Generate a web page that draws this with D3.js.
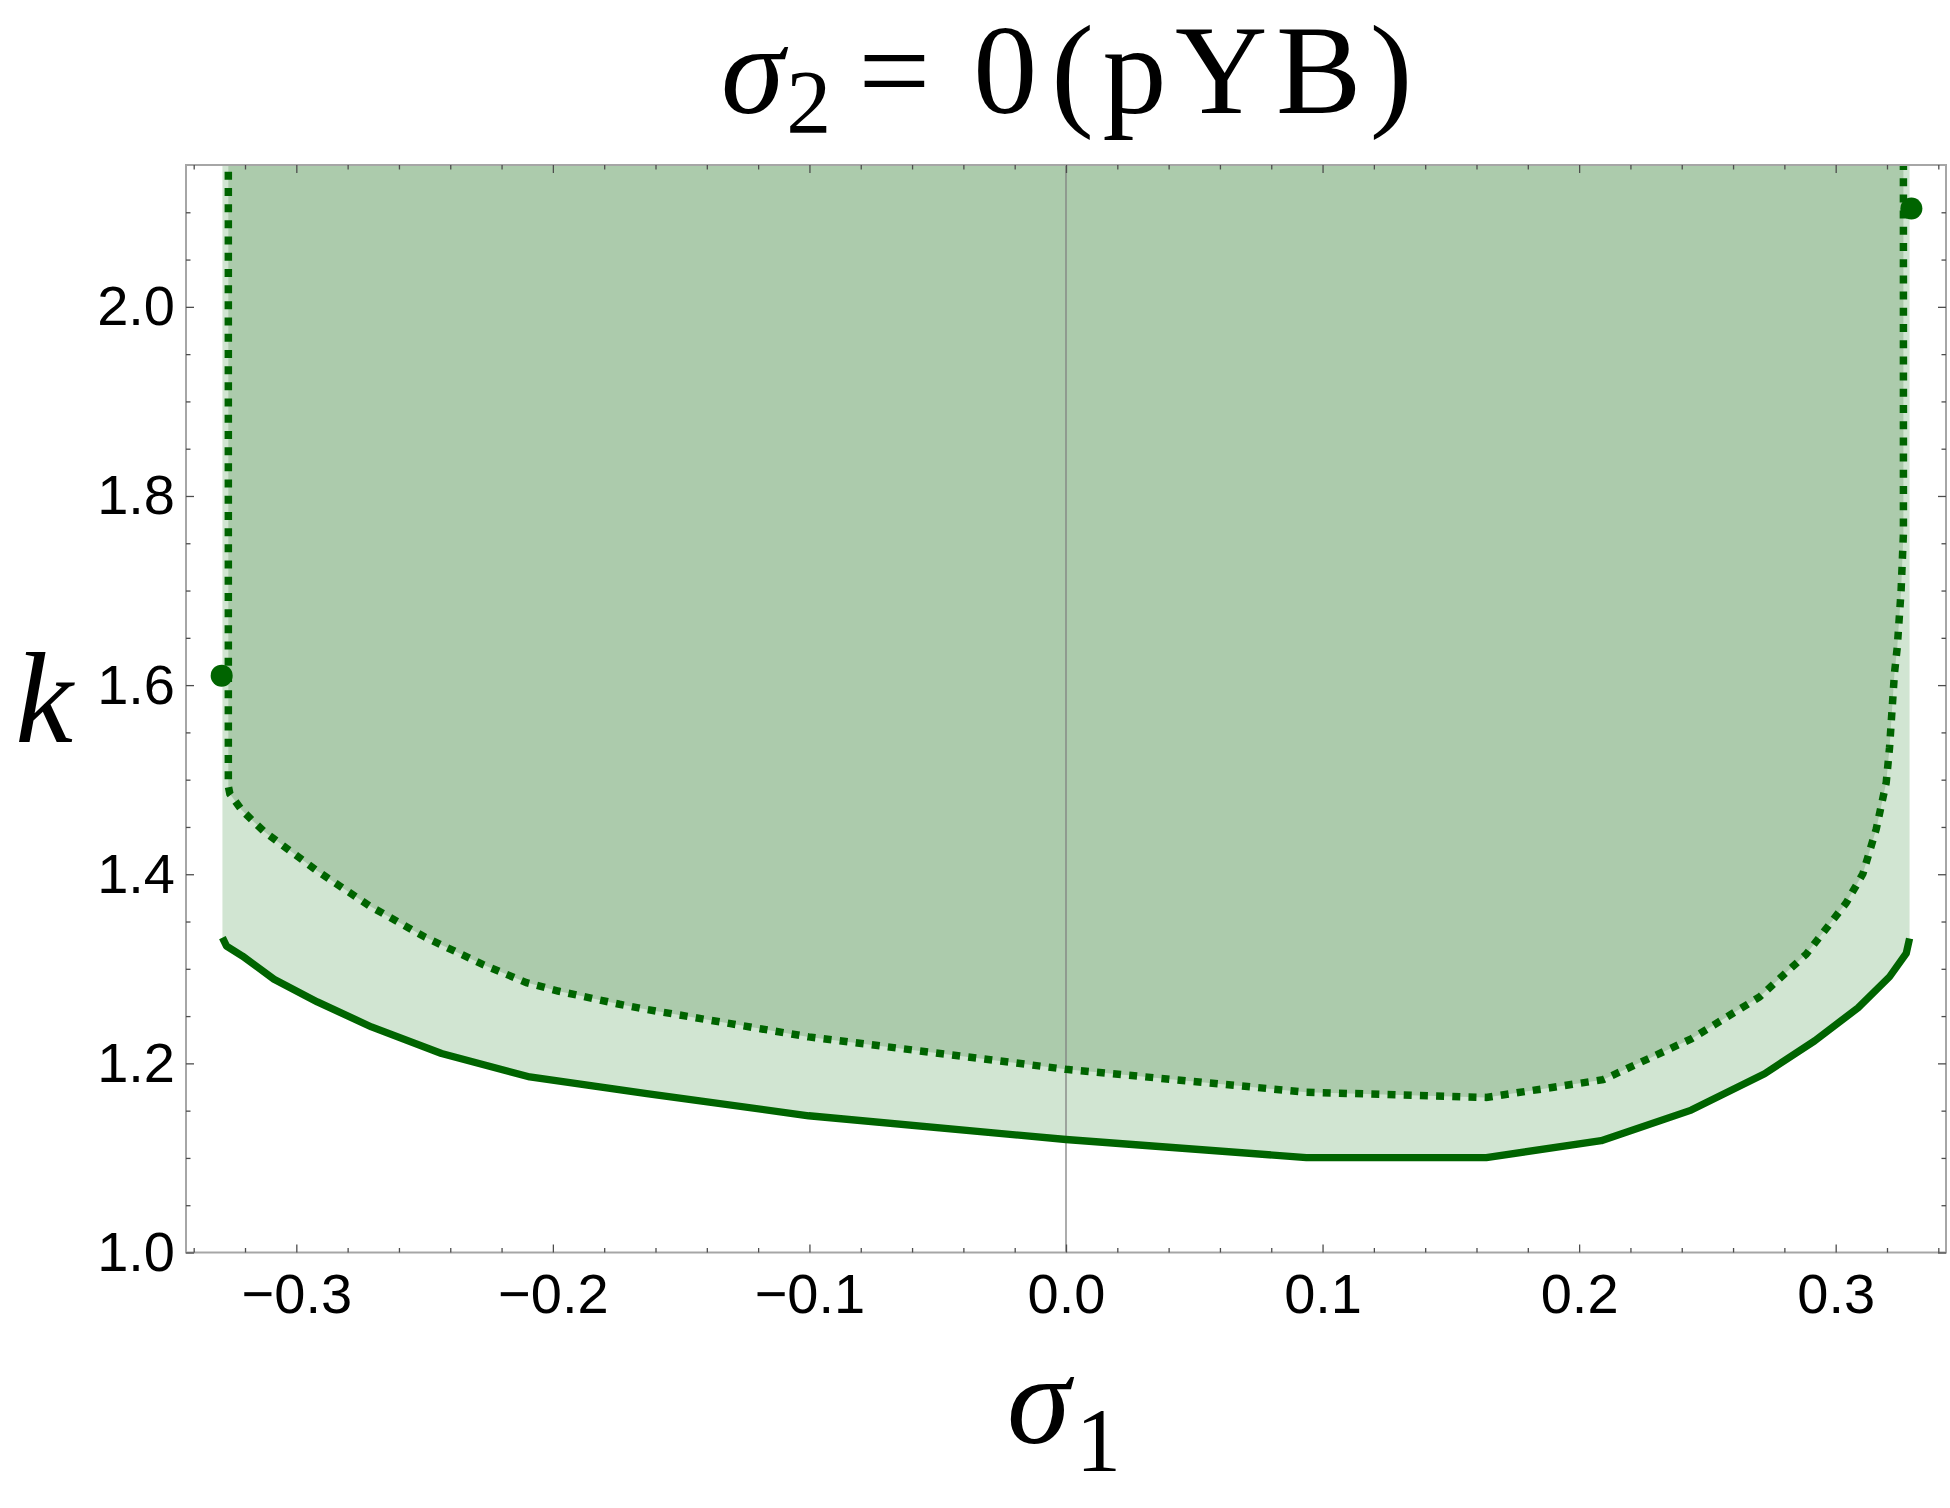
<!DOCTYPE html>
<html>
<head>
<meta charset="utf-8">
<script src="https://cdn.jsdelivr.net/npm/d3@7"></script>
<style>
  html, body { margin: 0; padding: 0; background: #fff; }
  svg { display: block; }
</style>
</head>
<body>
<svg id="chart" width="1950" height="1508"></svg>
<script>
// values
const sigmaSolid = [-0.3288, -0.3272, -0.321, -0.3087, -0.2918, -0.2707, -0.2434, -0.209, -0.1634, -0.1003,
  0.0, 0.0937, 0.1638, 0.2086, 0.2437, 0.2723, 0.2918, 0.3087, 0.321, 0.3275, 0.3288];
const kSolid = [1.333, 1.324, 1.3135, 1.289, 1.265, 1.2385, 1.2104, 1.1856, 1.168, 1.1446,
  1.1195, 1.1004, 1.1004, 1.1182, 1.1506, 1.189, 1.2238, 1.2587, 1.2916, 1.3163, 1.332];

const sigmaDotted = [-0.3265, -0.3265, -0.3259, -0.3214, -0.3168, -0.3123, -0.2921, -0.2714, -0.2499, -0.2272,
  -0.2103, -0.198, -0.174, -0.1634, -0.1003, 0.0, 0.0937, 0.1638, 0.2093, 0.2437,
  0.2703, 0.2885, 0.3041, 0.3106, 0.3158, 0.3197, 0.321, 0.322, 0.3229, 0.324,
  0.3255, 0.3264, 0.3264];
const kDotted = [2.16, 1.493, 1.485, 1.4683, 1.456, 1.4446, 1.404, 1.3664, 1.3336, 1.3044,
  1.2854, 1.2765, 1.2625, 1.257, 1.228, 1.1937, 1.1695, 1.164, 1.1827, 1.2259,
  1.2702, 1.3154, 1.3697, 1.4004, 1.4477, 1.497, 1.534, 1.575, 1.612, 1.64,
  1.7, 1.76, 2.16];

const pointSigma = [-0.3291, 0.3295];
const pointK = [1.61, 2.104];

const xTicks = [-0.3, -0.2, -0.1, 0, 0.1, 0.2, 0.3];
const xTickLabels = ["\u22120.3", "\u22120.2", "\u22120.1", "0.0", "0.1", "0.2", "0.3"];
const yTicks = [1.0, 1.2, 1.4, 1.6, 1.8, 2.0];
const yTickLabels = ["1.0", "1.2", "1.4", "1.6", "1.8", "2.0"];

const sigmaDomain = [-0.343, 0.343];
const kDomain = [1.0, 2.15];

const green = "#006400";
const lightFill = "#d1e5d2";
const darkFill = "#accbac";

const svg = d3.select("#chart");

const x = d3.scaleLinear().domain(sigmaDomain).range([186, 1946]);
const y = d3.scaleLinear().domain(kDomain).range([1252.5, 165]);

// clip to the frame
svg.append("defs").append("clipPath").attr("id", "plot-clip")
  .append("rect")
  .attr("x", x(sigmaDomain[0])).attr("y", y(kDomain[1]))
  .attr("width", x(sigmaDomain[1]) - x(sigmaDomain[0]))
  .attr("height", y(kDomain[0]) - y(kDomain[1]));

const plot = svg.append("g").attr("clip-path", "url(#plot-clip)");

const solidPts = sigmaSolid.map((s, i) => [s, kSolid[i]]);
const dottedPts = sigmaDotted.map((s, i) => [s, kDotted[i]]);

// light region: above the solid curve
const area = d3.area()
  .x(d => x(d[0]))
  .y0(y(kDomain[1]) - 5)
  .y1(d => y(d[1]));
plot.append("path").attr("d", area(solidPts)).attr("fill", lightFill);

// dark region: inside the dotted curve
const line = d3.line().x(d => x(d[0])).y(d => y(d[1]));
plot.append("path").attr("d", line(dottedPts) + "Z").attr("fill", darkFill);

// sigma1 = 0 axis
plot.append("line")
  .attr("x1", x(0)).attr("x2", x(0))
  .attr("y1", y(kDomain[0])).attr("y2", y(kDomain[1]))
  .attr("stroke", "#808080").attr("stroke-width", 1.3);

plot.append("path").attr("d", line(dottedPts))
  .attr("fill", "none").attr("stroke", green)
  .attr("stroke-width", 7.5).attr("stroke-dasharray", "8 8.2");

plot.append("path").attr("d", line(solidPts))
  .attr("fill", "none").attr("stroke", green)
  .attr("stroke-width", 7.3).attr("stroke-linejoin", "round");

// frame
svg.append("rect")
  .attr("x", x(sigmaDomain[0])).attr("y", y(kDomain[1]))
  .attr("width", x(sigmaDomain[1]) - x(sigmaDomain[0]))
  .attr("height", y(kDomain[0]) - y(kDomain[1]))
  .attr("fill", "none").attr("stroke", "#a6a6a6").attr("stroke-width", 2);

// ticks
const xMinor = d3.range(-17, 18).map(i => i * 0.02).filter(v => Math.abs(Math.round(v * 10) - v * 10) > 1e-6);
const yMinor = d3.range(21, 43).map(i => i * 0.05).filter(v => Math.abs(Math.round(v * 5) - v * 5) > 1e-6);

function styleAxis(g) {
  g.select(".domain").remove();
  g.selectAll(".tick line").attr("stroke", "#4d4d4d").attr("stroke-width", 1.3);
  g.selectAll("text")
    .attr("fill", "#000")
    .style("font-family", "'Liberation Sans', Arial, sans-serif")
    .style("font-size", "56px");
}

const bottomY = y(kDomain[0]), topY = y(kDomain[1]);
const leftX = x(sigmaDomain[0]), rightX = x(sigmaDomain[1]);

svg.append("g").attr("transform", `translate(0,${bottomY})`)
  .call(d3.axisBottom(x).tickValues(xMinor).tickSize(-4.5).tickFormat(""))
  .call(styleAxis);
svg.append("g").attr("transform", `translate(0,${bottomY})`)
  .call(d3.axisBottom(x).tickValues(xTicks).tickSize(-8).tickPadding(21)
    .tickFormat((d, i) => xTickLabels[i]))
  .call(styleAxis);
svg.append("g").attr("transform", `translate(0,${topY})`)
  .call(d3.axisTop(x).tickValues(xMinor).tickSize(-4.5).tickFormat(""))
  .call(styleAxis);
svg.append("g").attr("transform", `translate(0,${topY})`)
  .call(d3.axisTop(x).tickValues(xTicks).tickSize(-8).tickFormat(""))
  .call(styleAxis);

svg.append("g").attr("transform", `translate(${leftX},0)`)
  .call(d3.axisLeft(y).tickValues(yMinor).tickSize(-4.5).tickFormat(""))
  .call(styleAxis);
svg.append("g").attr("transform", `translate(${leftX},0)`)
  .call(d3.axisLeft(y).tickValues(yTicks).tickSize(-8).tickPadding(11)
    .tickFormat((d, i) => yTickLabels[i]))
  .call(styleAxis);
svg.append("g").attr("transform", `translate(${rightX},0)`)
  .call(d3.axisRight(y).tickValues(yMinor).tickSize(-4.5).tickFormat(""))
  .call(styleAxis);
svg.append("g").attr("transform", `translate(${rightX},0)`)
  .call(d3.axisRight(y).tickValues(yTicks).tickSize(-8).tickFormat(""))
  .call(styleAxis);

// the two marked points
svg.append("g").selectAll("circle")
  .data(pointSigma)
  .join("circle")
  .attr("cx", d => x(d))
  .attr("cy", (d, i) => y(pointK[i]))
  .attr("r", 11)
  .attr("fill", green);

// title and axis labels
const serif = "'Liberation Serif', 'DejaVu Serif', serif";
const title = svg.append("text")
  .attr("x", 721).attr("y", 113)
  .attr("text-anchor", "start")
  .style("font-family", serif).style("font-size", "128px");
title.append("tspan").style("font-style", "italic").text("σ");
title.append("tspan").attr("dy", 20).attr("dx", 2).style("font-size", "90px").text("2");
title.append("tspan").attr("dy", -20).attr("dx", 27).text("=");
title.append("tspan").attr("dx", 43).text("0");
title.append("tspan").attr("dx", 14).style("letter-spacing", "8.5px").text("(pYB)");

svg.append("text")
  .attr("x", 44).attr("y", 742)
  .attr("text-anchor", "middle")
  .style("font-family", serif).style("font-style", "italic").style("font-size", "130px")
  .text("k");

const xlab = svg.append("text")
  .attr("x", 1064).attr("y", 1443)
  .attr("text-anchor", "middle")
  .style("font-family", serif).style("font-size", "128px");
xlab.append("tspan").style("font-style", "italic").text("σ");
xlab.append("tspan").attr("dy", 28).attr("dx", 6).style("font-size", "90px").text("1");
</script>
</body>
</html>
